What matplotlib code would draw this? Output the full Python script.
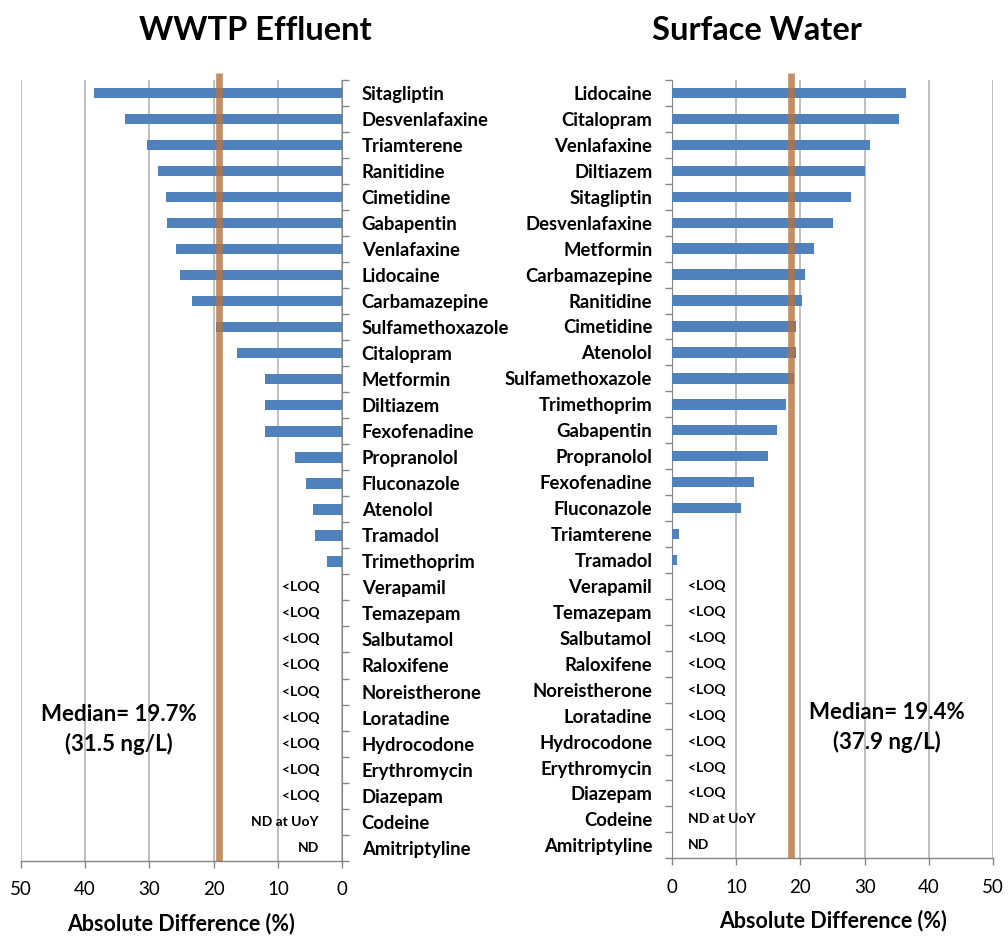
import matplotlib
matplotlib.use("Agg")
import matplotlib.pyplot as plt
import numpy as np

plt.rcParams['font.family'] = ['Lato', 'DejaVu Sans']

# ---------------- data ----------------
left_title = "WWTP Effluent"
left_categories = ["Sitagliptin", "Desvenlafaxine", "Triamterene", "Ranitidine", "Cimetidine",
                   "Gabapentin", "Venlafaxine", "Lidocaine", "Carbamazepine", "Sulfamethoxazole",
                   "Citalopram", "Metformin", "Diltiazem", "Fexofenadine", "Propranolol",
                   "Fluconazole", "Atenolol", "Tramadol", "Trimethoprim", "Verapamil",
                   "Temazepam", "Salbutamol", "Raloxifene", "Noreistherone", "Loratadine",
                   "Hydrocodone", "Erythromycin", "Diazepam", "Codeine", "Amitriptyline"]
left_values = [38.6, 33.7, 30.4, 28.6, 27.4, 27.2, 25.9, 25.3, 23.3, 19.7,
               16.3, 12.0, 12.0, 12.0, 7.4, 5.6, 4.5, 4.2, 2.3]
left_notes = ["<LOQ"] * 9 + ["ND at UoY", "ND"]
left_median = 19.1
left_median_text = "Median= 19.7%\n(31.5 ng/L)"

right_title = "Surface Water"
right_categories = ["Lidocaine", "Citalopram", "Venlafaxine", "Diltiazem", "Sitagliptin",
                    "Desvenlafaxine", "Metformin", "Carbamazepine", "Ranitidine", "Cimetidine",
                    "Atenolol", "Sulfamethoxazole", "Trimethoprim", "Gabapentin", "Propranolol",
                    "Fexofenadine", "Fluconazole", "Triamterene", "Tramadol", "Verapamil",
                    "Temazepam", "Salbutamol", "Raloxifene", "Noreistherone", "Loratadine",
                    "Hydrocodone", "Erythromycin", "Diazepam", "Codeine", "Amitriptyline"]
right_values = [36.4, 35.3, 30.8, 30.0, 27.8, 25.1, 22.1, 20.8, 20.3, 19.4,
                19.4, 19.0, 17.8, 16.4, 14.9, 12.8, 10.7, 1.1, 0.8]
right_notes = ["<LOQ"] * 9 + ["ND at UoY", "ND"]
right_median = 18.5
right_median_text = "Median= 19.4%\n(37.9 ng/L)"

x_ticks = [0, 10, 20, 30, 40, 50]
x_label = "Absolute Difference (%)"

# ---------------- style ----------------
BAR = "#4F81BD"
GRID = "#BFBFBF"
SPINE = "#868686"
MED = "#B5733F"

fig = plt.figure(figsize=(10.08, 9.36), dpi=100)

def setup(ax, cats, vals, notes, median, mtext, side):
    n = len(cats)
    y = np.arange(n)
    ax.barh(y[:len(vals)], vals, height=0.4, color=BAR, zorder=3)
    ax.set_ylim(n - 0.5, -0.5)
    ax.set_xticks(x_ticks)
    ax.set_xticklabels([str(t) for t in x_ticks], fontsize=13.5)
    ax.grid(axis='x', color=GRID, linewidth=1.4, zorder=0)
    ax.set_axisbelow(True)
    for s in ax.spines.values():
        s.set_visible(False)
    ax.spines['bottom'].set_visible(True)
    ax.spines['bottom'].set_color(SPINE)
    ax.spines['bottom'].set_linewidth(1.0)
    ax.tick_params(axis='x', direction='out', length=5, color=SPINE, width=1.0, pad=10)
    ax.set_yticks(y)
    ax.set_yticks(np.arange(n + 1) - 0.5, minor=True)
    ax.set_yticklabels(cats, fontsize=13.3, fontweight='bold')
    ax.set_xlabel(x_label, fontsize=15.5, fontweight='bold', labelpad=10)
    if side == 'left':
        ax.set_xlim(50, 0)
        ax.spines['right'].set_visible(True)
        ax.spines['right'].set_color(SPINE)
        ax.yaxis.tick_right()
        ax.tick_params(axis='y', which='major', length=0, pad=14)
        ax.tick_params(axis='y', which='minor', direction='out', length=5, color=SPINE, width=1.0)
        for lab in ax.get_yticklabels():
            lab.set_horizontalalignment('left')
        for i, t in enumerate(notes):
            ax.text(3.6, len(vals) + i, t, ha='right', va='center', fontsize=10,
                    fontweight='bold', zorder=5)
        ax.text(34.8, 24.45, mtext, ha='center', va='center', fontsize=16,
                fontweight='bold', linespacing=1.45)
    else:
        ax.set_xlim(0, 50)
        ax.spines['left'].set_visible(True)
        ax.spines['left'].set_color(SPINE)
        ax.tick_params(axis='y', which='major', length=0, pad=14)
        ax.tick_params(axis='y', which='minor', direction='out', length=5, color=SPINE, width=1.0)
        for i, t in enumerate(notes):
            ax.text(2.5, len(vals) + i, t, ha='left', va='center', fontsize=10,
                    fontweight='bold', zorder=5)
        ax.text(33.4, 24.45, mtext, ha='center', va='center', fontsize=16,
                fontweight='bold', linespacing=1.45)
    ax.plot([median, median], [n - 0.5, -0.78], color=MED, alpha=0.8, linewidth=4.8,
            solid_capstyle='butt', zorder=4, clip_on=False)

axL = fig.add_axes([0.0205, 0.0805, 0.319, 0.834])
setup(axL, left_categories, left_values, left_notes, left_median, left_median_text, 'left')
axR = fig.add_axes([0.6664, 0.083, 0.319, 0.8315])
setup(axR, right_categories, right_values, right_notes, right_median, right_median_text, 'right')

fig.text(255 / 1008, 1 - 31 / 936, left_title, ha='center', va='center', fontsize=23.5, fontweight='bold')
fig.text(757 / 1008, 1 - 31 / 936, right_title, ha='center', va='center', fontsize=23.5, fontweight='bold')

fig.savefig("out.png", dpi=100)
